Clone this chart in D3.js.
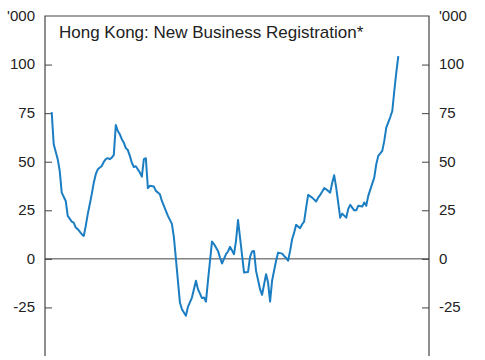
<!DOCTYPE html>
<html>
<head>
<meta charset="utf-8">
<script src="https://cdn.jsdelivr.net/npm/d3@7"></script>
<style>
  body { margin: 0; background: #fff; }
  svg { display: block; font-family: "Liberation Sans", Arial, sans-serif; }
</style>
</head>
<body>
<div id="chart"></div>
<script>
// Monthly index and value ('000)
const months = [0, 1, 3, 4, 5, 7, 8, 10, 11, 12, 13, 15, 16, 17, 18, 19, 20, 21, 22, 23,
  25, 26, 27, 28, 29, 30, 31, 32, 33, 34, 35, 36, 37, 38, 39, 40, 41, 42, 44, 45,
  46, 47, 48, 49, 51, 52, 54, 55, 57, 58, 60, 61, 62, 63, 64, 65, 67, 68, 70, 72,
  73, 75, 76, 77, 78, 80, 81, 83, 84, 85, 87, 88, 89, 91, 92, 93, 96, 98, 99, 100,
  101, 102, 104, 105, 107, 108, 109, 110, 112, 113, 115, 116, 117, 118, 119, 120, 121, 122, 124, 125,
  126, 127, 128, 130, 132, 133, 134, 136, 137, 139, 140, 141, 142, 144, 145, 147, 148, 149, 151, 152,
  153, 155, 156, 157, 158, 160, 161, 162, 163, 165, 166, 167, 169, 170, 171, 172, 173];
const registrations = [75.5, 59, 51.3, 45.3, 34.1, 29.8, 22.1, 19.2, 18.7, 16.1, 15.3, 12.7, 11.8, 17, 23, 28.1, 33.3, 39.2, 43.6, 46.1,
  47.8, 49.9, 51.3, 51.8, 51.3, 52.1, 53.5, 68.9, 65.8, 64.1, 61.6, 59.8, 57, 56, 53, 49.5, 47.3, 47.7, 44.4, 42.3,
  51.3, 51.8, 36.4, 37.6, 37.2, 35, 33.3, 29.8, 24.7, 22.1, 18, 11, 0, -11.3, -22.5, -25.9, -29.3, -24.7, -19.9, -11.3,
  -15.6, -20.2, -19.9, -22, -11.3, 8.9, 7.6, 4.1, 0.7, -2.4, 2.4, 3.8, 6.2, 2.4, 9.3, 20, -7, -6.8, 1, 3.8,
  4, -6.2, -15.6, -18.5, -7.9, -12.2, -22, -11.3, -1, 3.2, 2.7, 1.5, 0.5, -1, 4.1, 10.1, 13.5, 17.5, 15.8, 17.8,
  19.2, 26.4, 32.9, 31.5, 29.5, 31.5, 32.9, 36.4, 35.8, 34.1, 39.2, 43, 36.7, 21.2, 23.3, 21.2, 25.6, 27.8, 25, 25,
  27.3, 26.9, 29, 27.3, 32.4, 38.7, 41.8, 48.7, 53, 55.6, 60.7, 67.5, 73, 76.1, 86.4, 95.8, 104.4];
const tickValues = [-25, 0, 25, 50, 75, 100];
const unitLabel = "'000";
const title = "Hong Kong: New Business Registration*";

const width = 485, height = 360;
const plotLeft = 45, plotRight = 429, plotTop = 16, plotBottom = 356;

const svg = d3.select("#chart").append("svg")
    .attr("width", width)
    .attr("height", height);

const x = d3.scaleLinear()
    .domain([0, d3.max(months)])
    .range([51.7, 398.3]);

const y = d3.scaleLinear()
    .domain([-50, 125])
    .range([plotBottom, plotTop]);

// left axis, ticks pointing in
const yLeft = svg.append("g")
    .attr("transform", "translate(" + plotLeft + ",0)")
    .call(d3.axisRight(y).tickValues(tickValues).tickSize(7).tickFormat(""));
yLeft.select(".domain").remove();

// right axis
const yRight = svg.append("g")
    .attr("transform", "translate(" + plotRight + ",0)")
    .call(d3.axisLeft(y).tickValues(tickValues).tickSize(7).tickFormat(""));
yRight.select(".domain").remove();

svg.selectAll(".tick line").attr("stroke", "#444");

// frame: left, top, right
svg.append("path")
    .attr("d", "M" + plotLeft + "," + plotBottom + "V" + plotTop + "H" + plotRight + "V" + plotBottom)
    .attr("fill", "none")
    .attr("stroke", "#444")
    .attr("stroke-width", 1.2);

// zero line
svg.append("line")
    .attr("x1", plotLeft).attr("x2", plotRight)
    .attr("y1", y(0)).attr("y2", y(0))
    .attr("stroke", "#444")
    .attr("stroke-width", 1);

// tick labels
const labels = tickValues.map(d => ({ v: d, t: String(d) })).concat([{ v: 125, t: unitLabel }]);

svg.selectAll(".lab-left")
    .data(labels)
    .enter().append("text")
    .attr("x", plotLeft - 10)
    .attr("y", d => y(d.v))
    .attr("dy", "0.32em")
    .attr("text-anchor", "end")
    .attr("font-size", 15)
    .attr("fill", "#222")
    .text(d => d.t);

svg.selectAll(".lab-right")
    .data(labels)
    .enter().append("text")
    .attr("x", plotRight + 10)
    .attr("y", d => y(d.v))
    .attr("dy", "0.32em")
    .attr("font-size", 15)
    .attr("fill", "#222")
    .text(d => d.t);

svg.append("text")
    .attr("x", 59)
    .attr("y", 38)
    .attr("font-size", 17)
    .attr("fill", "#222")
    .text(title);

const line = d3.line()
    .x((d, i) => x(months[i]))
    .y(d => y(d));

svg.append("path")
    .datum(registrations)
    .attr("d", line)
    .attr("fill", "none")
    .attr("stroke", "#1b7dc2")
    .attr("stroke-width", 2)
    .attr("stroke-linejoin", "round");
</script>
</body>
</html>
